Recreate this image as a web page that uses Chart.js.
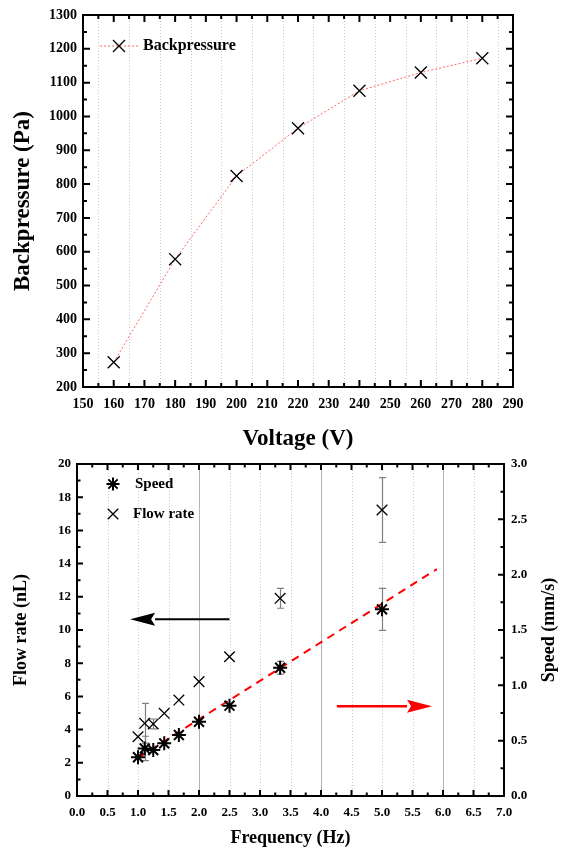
<!DOCTYPE html>
<html>
<head>
<meta charset="utf-8">
<script src="https://cdn.jsdelivr.net/npm/chart.js@4.4.0/dist/chart.umd.min.js"></script>
<style>
  html, body { margin: 0; padding: 0; background: #fff; }
  canvas { display: block; }
</style>
</head>
<body>
<canvas id="pressureChart" width="561" height="450"></canvas>
<canvas id="flowChart" width="561" height="400"></canvas>
<script>
// ---- top panel: backpressure vs voltage
const voltage = [160, 180, 200, 220, 240, 260, 280];
const backpressure = [273, 578, 824, 965, 1076, 1130, 1172];
const voltageTicks = [150, 160, 170, 180, 190, 200, 210, 220, 230, 240, 250, 260, 270, 280, 290];
const pressureTicks = [200, 300, 400, 500, 600, 700, 800, 900, 1000, 1100, 1200, 1300];

// ---- bottom panel: flow rate / speed vs frequency
const frequency = [1.0, 1.11, 1.25, 1.43, 1.67, 2.0, 2.5, 3.33, 5.0];
const flowRate = [3.57, 4.38, 4.34, 4.98, 5.78, 6.89, 8.39, 11.91, 17.23];
const flowRateErr = [0, 1.2, 0.3, 0, 0, 0, 0, 0.6, 1.95];
const speed = [0.35, 0.43, 0.415, 0.476, 0.551, 0.671, 0.816, 1.159, 1.687];
const speedErr = [0, 0.11, 0, 0, 0, 0, 0, 0.057, 0.19];
const fitFreq = [1.0, 5.9];
const fitSpeed = [0.345, 2.05];
const freqTicks = [0, 0.5, 1, 1.5, 2, 2.5, 3, 3.5, 4, 4.5, 5, 5.5, 6, 6.5, 7];
const flowTicks = [0, 2, 4, 6, 8, 10, 12, 14, 16, 18, 20];
const speedTicks = [0, 0.5, 1, 1.5, 2, 2.5, 3];
const freqSolidGrid = [2, 4, 6];
const freqDottedGrid = [0.5, 1, 1.5, 2.5, 3, 3.5, 4.5, 5, 5.5, 6.5];
const voltageGrid = [155, 165, 175, 185, 195, 205, 215, 225, 235, 245, 255, 265, 275, 285];
// annotation arrows (data coordinates)
const flowArrowFreq = [2.5, 0.87];
const flowArrowLevel = 10.65;
const speedArrowFreq = [4.26, 5.82];
const speedArrowLevel = 0.81;

const SERIF = '"Liberation Serif", "Times New Roman", serif';
const boldFont = (size) => ({ family: SERIF, size: size, weight: 'bold', lineHeight: 1 });
const NO_GRID = { display: false, drawTicks: false };

function fixedTicks(values) {
    return scale => { scale.ticks = values.map(v => ({ value: v })); };
}

function pairs(xs, ys) {
    return xs.map((x, i) => ({ x: x, y: ys[i] }));
}

// grid lines, inward major/minor ticks and the box frame (Origin style)
function makeFrame(cfg) {
    return {
        id: 'frame',
        beforeDatasetsDraw(chart) {
            const { ctx, chartArea: a } = chart;
            const xs = chart.scales.x;
            ctx.save();
            ctx.lineWidth = 1;
            cfg.grid.forEach(g => {
                ctx.strokeStyle = g.color;
                ctx.setLineDash(g.dash);
                g.values.forEach(v => {
                    const px = Math.round(xs.getPixelForValue(v)) + 0.5;
                    ctx.beginPath();
                    ctx.moveTo(px, a.top);
                    ctx.lineTo(px, a.bottom);
                    ctx.stroke();
                });
            });
            ctx.restore();
        },
        afterDraw(chart) {
            const { ctx, chartArea: a } = chart;
            const marks = scale => {
                const major = scale.ticks.map(t => t.value);
                const minor = [];
                for (let i = 0; i < major.length - 1; i++) minor.push((major[i] + major[i + 1]) / 2);
                return [[major, cfg.major], [minor, cfg.minor]];
            };
            ctx.save();
            ctx.strokeStyle = '#000';
            ctx.lineWidth = 2;
            ctx.beginPath();
            const xs = chart.scales.x;
            marks(xs).forEach(([vals, len]) => vals.forEach(v => {
                const px = xs.getPixelForValue(v);
                ctx.moveTo(px, a.bottom); ctx.lineTo(px, a.bottom - len);
                ctx.moveTo(px, a.top); ctx.lineTo(px, a.top + len);
            }));
            const yl = chart.scales.y;
            marks(yl).forEach(([vals, len]) => vals.forEach(v => {
                const py = yl.getPixelForValue(v);
                ctx.moveTo(a.left, py); ctx.lineTo(a.left + len, py);
            }));
            const yr = chart.scales[cfg.rightAxis];
            marks(yr).forEach(([vals, len]) => vals.forEach(v => {
                const py = yr.getPixelForValue(v);
                ctx.moveTo(a.right, py); ctx.lineTo(a.right - len, py);
            }));
            ctx.stroke();
            ctx.strokeRect(a.left, a.top, a.right - a.left, a.bottom - a.top);
            ctx.restore();
        }
    };
}

const errorBars = {
    id: 'errorBars',
    beforeDatasetsDraw(chart) {
        const { ctx } = chart;
        ctx.save();
        ctx.strokeStyle = '#808080';
        ctx.lineWidth = 1.2;
        chart.data.datasets.forEach(ds => {
            if (!ds.errors) return;
            const xs = chart.scales.x;
            const ys = chart.scales[ds.yAxisID];
            ds.data.forEach((p, i) => {
                const e = ds.errors[i];
                if (!e) return;
                const px = Math.round(xs.getPixelForValue(p.x)) + 0.5;
                const top = ys.getPixelForValue(p.y + e);
                const bot = ys.getPixelForValue(p.y - e);
                ctx.beginPath();
                ctx.moveTo(px, top); ctx.lineTo(px, bot);
                ctx.moveTo(px - 3.5, top); ctx.lineTo(px + 3.5, top);
                ctx.moveTo(px - 3.5, bot); ctx.lineTo(px + 3.5, bot);
                ctx.stroke();
            });
        });
        ctx.restore();
    }
};

const arrows = {
    id: 'arrows',
    afterDatasetsDraw(chart) {
        const { ctx, scales } = chart;
        const draw = (x1, x2, y, color, width) => {
            const dir = Math.sign(x2 - x1);
            const headLen = 25, half = 6.5;
            ctx.save();
            ctx.strokeStyle = color;
            ctx.fillStyle = color;
            ctx.lineWidth = width;
            ctx.beginPath();
            ctx.moveTo(x1, y);
            ctx.lineTo(x2 - dir * headLen, y);
            ctx.stroke();
            ctx.beginPath();
            ctx.moveTo(x2, y);
            ctx.lineTo(x2 - dir * headLen, y - half);
            ctx.lineTo(x2 - dir * (headLen - 4), y);
            ctx.lineTo(x2 - dir * headLen, y + half);
            ctx.closePath();
            ctx.fill();
            ctx.restore();
        };
        draw(scales.x.getPixelForValue(flowArrowFreq[0]), scales.x.getPixelForValue(flowArrowFreq[1]),
             scales.y.getPixelForValue(flowArrowLevel), '#000', 2);
        draw(scales.x.getPixelForValue(speedArrowFreq[0]), scales.x.getPixelForValue(speedArrowFreq[1]),
             scales.y2.getPixelForValue(speedArrowLevel), '#ff0000', 2.5);
    }
};

const pressureLegend = {
    id: 'pressureLegend',
    afterDraw(chart) {
        const { ctx, chartArea: a } = chart;
        const ds = chart.data.datasets[0];
        const y = a.top + 31;
        ctx.save();
        ctx.strokeStyle = ds.borderColor;
        ctx.lineWidth = 1;
        ctx.setLineDash([2, 2]);
        ctx.beginPath();
        ctx.moveTo(a.left + 17, y);
        ctx.lineTo(a.left + 57, y);
        ctx.stroke();
        ctx.setLineDash([]);
        ctx.strokeStyle = '#000';
        ctx.fillStyle = 'rgba(0,0,0,0)';
        ctx.lineWidth = ds.pointBorderWidth;
        Chart.helpers.drawPoint(ctx, { pointStyle: 'crossRot', radius: ds.pointRadius, borderWidth: 1 }, a.left + 36, y);
        ctx.fillStyle = '#000';
        ctx.font = 'bold 16px ' + SERIF;
        ctx.textBaseline = 'middle';
        ctx.fillText(ds.label, a.left + 60, y);
        ctx.restore();
    }
};

const flowLegend = {
    id: 'flowLegend',
    afterDraw(chart) {
        const { ctx, chartArea: a } = chart;
        const items = [
            { ds: chart.data.datasets[0], y: a.top + 20, tx: a.left + 58, r: 6.5 },
            { ds: chart.data.datasets[1], y: a.top + 50, tx: a.left + 56, r: 7.5 }
        ];
        ctx.save();
        items.forEach(it => {
            ctx.strokeStyle = '#000';
            ctx.fillStyle = 'rgba(0,0,0,0)';
            ctx.lineWidth = it.ds.pointBorderWidth;
            Chart.helpers.drawPoint(ctx, { pointStyle: it.ds.pointStyle, radius: it.r, borderWidth: 1 }, a.left + 36, it.y);
            ctx.fillStyle = '#000';
            ctx.font = 'bold 15px ' + SERIF;
            ctx.textBaseline = 'middle';
            ctx.fillText(it.ds.label, it.tx, it.y);
        });
        // right-hand axis title, reading bottom to top
        ctx.translate(549, (a.top + a.bottom) / 2);
        ctx.rotate(-Math.PI / 2);
        ctx.textAlign = 'center';
        ctx.font = 'bold 18px ' + SERIF;
        ctx.fillText('Speed (mm/s)', 0, 0);
        ctx.restore();
    }
};

// ============================================
// 1. Backpressure vs voltage
// ============================================
new Chart(document.getElementById('pressureChart'), {
    type: 'line',
    data: {
        datasets: [{
            label: 'Backpressure',
            data: pairs(voltage, backpressure),
            borderColor: '#ff6666',
            borderWidth: 1,
            borderDash: [2, 2],
            tension: 0,
            pointStyle: 'crossRot',
            pointRadius: 8.5,
            pointBorderWidth: 1.3,
            pointBorderColor: '#000',
            pointBackgroundColor: 'rgba(0,0,0,0)'
        }]
    },
    options: {
        responsive: false,
        animation: false,
        layout: { padding: { top: 15, right: 48, left: 0, bottom: 0 } },
        plugins: { legend: { display: false }, tooltip: { enabled: false } },
        scales: {
            x: {
                type: 'linear',
                min: 150, max: 290,
                afterBuildTicks: fixedTicks(voltageTicks),
                afterFit: s => { s.height = 63; },
                grid: NO_GRID,
                border: { display: false },
                ticks: { color: '#000', font: boldFont(14), padding: 10, callback: v => String(v) },
                title: { display: true, text: 'Voltage (V)', color: '#000', font: boldFont(23), padding: { top: 0, bottom: -1 } }
            },
            y: {
                min: 200, max: 1300,
                afterBuildTicks: fixedTicks(pressureTicks),
                afterFit: s => { s.width = 83; },
                grid: NO_GRID,
                border: { display: false },
                ticks: { color: '#000', font: boldFont(14), padding: 6, callback: v => String(v) },
                title: { display: true, text: 'Backpressure (Pa)', color: '#000', font: boldFont(23), padding: { top: 12, bottom: 0 } }
            }
        }
    },
    plugins: [makeFrame({
        grid: [{ values: voltageGrid, color: '#c8c8c8', dash: [1, 2] }],
        rightAxis: 'y', major: 7, minor: 4
    }), pressureLegend]
});

// ============================================
// 2. Flow rate and speed vs frequency
// ============================================
new Chart(document.getElementById('flowChart'), {
    type: 'scatter',
    data: {
        datasets: [{
            label: 'Speed',
            data: pairs(frequency, speed),
            errors: speedErr,
            yAxisID: 'y2',
            pointStyle: 'star',
            pointRadius: 7,
            pointBorderWidth: 2,
            pointBorderColor: '#000',
            pointBackgroundColor: 'rgba(0,0,0,0)'
        }, {
            label: 'Flow rate',
            data: pairs(frequency, flowRate),
            errors: flowRateErr,
            yAxisID: 'y',
            pointStyle: 'crossRot',
            pointRadius: 7.5,
            pointBorderWidth: 1.3,
            pointBorderColor: '#000',
            pointBackgroundColor: 'rgba(0,0,0,0)'
        }, {
            label: 'Linear fit',
            data: pairs(fitFreq, fitSpeed),
            yAxisID: 'y2',
            showLine: true,
            borderColor: '#ff0000',
            borderWidth: 2,
            borderDash: [8, 6],
            pointRadius: 0
        }]
    },
    options: {
        responsive: false,
        animation: false,
        layout: { padding: { top: 14, right: 0, left: 0, bottom: 0 } },
        plugins: { legend: { display: false }, tooltip: { enabled: false } },
        scales: {
            x: {
                type: 'linear',
                min: 0, max: 7,
                afterBuildTicks: fixedTicks(freqTicks),
                afterFit: s => { s.height = 54; },
                grid: NO_GRID,
                border: { display: false },
                ticks: { color: '#000', font: boldFont(13), padding: 10, callback: v => v.toFixed(1) },
                title: { display: true, text: 'Frequency (Hz)', color: '#000', font: boldFont(18), padding: { top: 0, bottom: 3 } }
            },
            y: {
                position: 'left',
                min: 0, max: 20,
                afterBuildTicks: fixedTicks(flowTicks),
                afterFit: s => { s.width = 77; },
                grid: NO_GRID,
                border: { display: false },
                ticks: { color: '#000', font: boldFont(13), padding: 6, callback: v => String(v) },
                title: { display: true, text: 'Flow rate (nL)', color: '#000', font: boldFont(18), padding: { top: 12, bottom: 0 } }
            },
            y2: {
                position: 'right',
                min: 0, max: 3,
                afterBuildTicks: fixedTicks(speedTicks),
                afterFit: s => { s.width = 57; },
                grid: NO_GRID,
                border: { display: false },
                ticks: { color: '#000', font: boldFont(13), padding: 7, callback: v => v.toFixed(1) }
            }
        }
    },
    plugins: [makeFrame({
        grid: [
            { values: freqDottedGrid, color: '#c8c8c8', dash: [1, 2] },
            { values: freqSolidGrid, color: '#b4b4b4', dash: [] }
        ],
        rightAxis: 'y2', major: 6, minor: 3.5
    }), errorBars, arrows, flowLegend]
});
</script>
</body>
</html>
